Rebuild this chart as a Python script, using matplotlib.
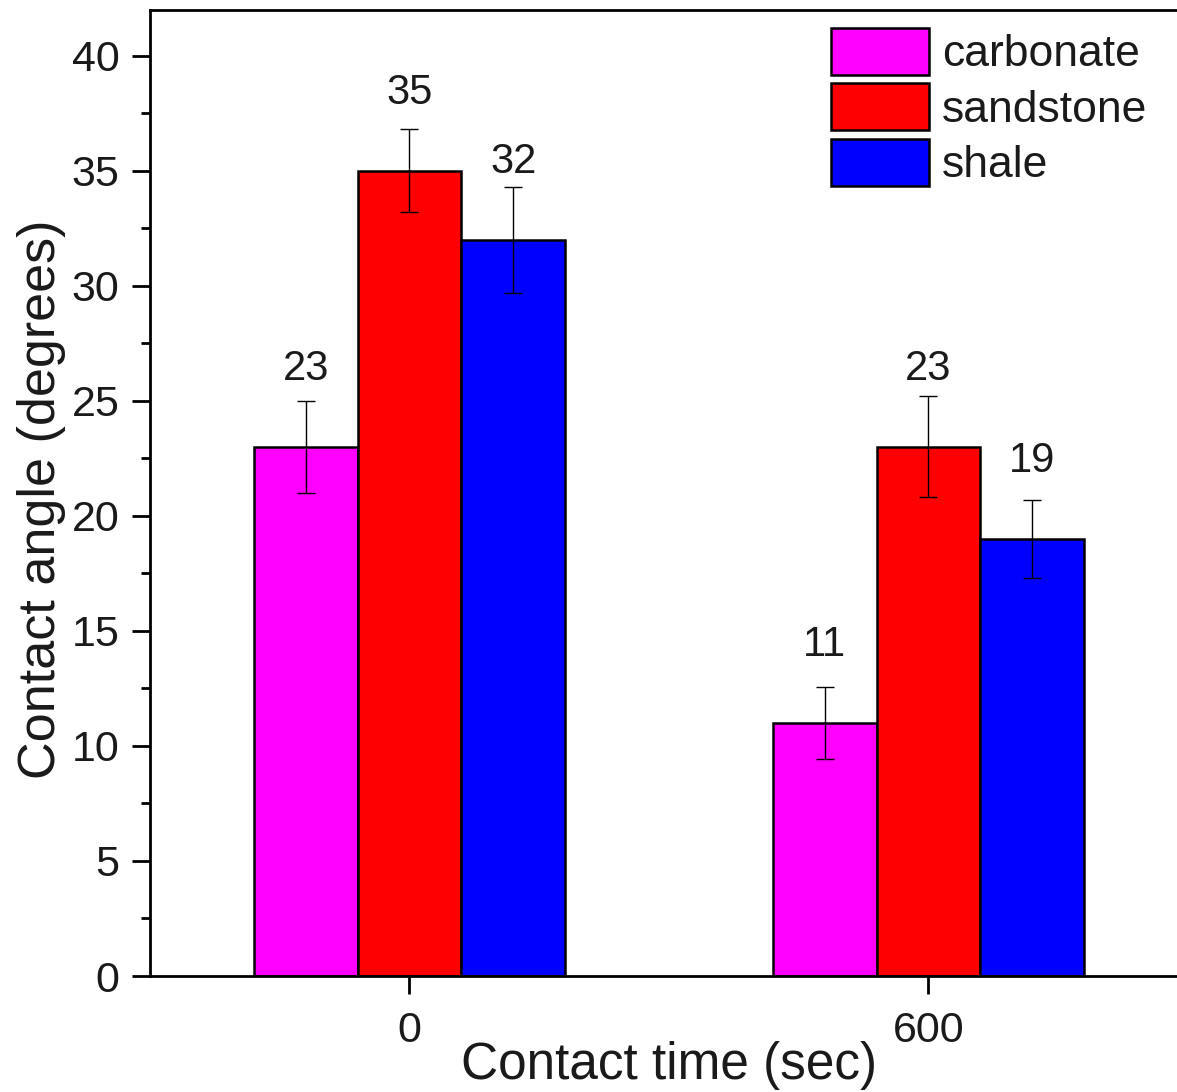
import matplotlib
matplotlib.use('Agg')
import matplotlib.pyplot as plt
import numpy as np

# *************************************************************************
# Data

times = ['0', '600']
rocks = ['carbonate', 'sandstone', 'shale']
colors = ['#ff00ff', '#ff0000', '#0000ff']

carbonate = [23, 11]
sandstone = [35, 23]
shale = [32, 19]

carbonate_err = [2.0, 1.55]
sandstone_err = [1.8, 2.2]
shale_err = [2.3, 1.7]

# *************************************************************************
plt.rcParams['font.family'] = ['Liberation Sans', 'DejaVu Sans']
txt_col = '#1a1a1a'

fig = plt.figure(figsize=(11.77, 10.92), dpi=100)
# right spine sits just past the picture edge, as in the original
ax = fig.add_axes([0.1274, 0.1062, 0.8819, 0.8851])

values = [carbonate, sandstone, shale]
errors = [carbonate_err, sandstone_err, shale_err]
x = np.arange(len(times))
w = 0.2

for i, (vals, errs) in enumerate(zip(values, errors)):
    pos = x + (i - 1) * w
    ax.bar(pos, vals, width=w, color=colors[i], edgecolor='k', linewidth=1.8,
           label=rocks[i], zorder=2)
    ax.errorbar(pos, vals, yerr=errs, fmt='none', ecolor='k', elinewidth=1,
                capsize=6.8, capthick=1, zorder=3)
    # value labels above each bar
    for p, v in zip(pos, vals):
        ax.text(p, v + 2.9, str(v), ha='center', va='baseline', fontsize=30,
                color=txt_col)

ax.set_xlim(-0.5, 1.5)
ax.set_ylim(0, 42)
ax.set_xticks(x)
ax.set_xticklabels(times)
ax.set_yticks(np.arange(0, 41, 5))
ax.set_yticks(np.arange(2.5, 41, 5), minor=True)

ax.tick_params(axis='both', which='major', direction='out', length=13, width=2,
               labelsize=31, labelcolor=txt_col)
ax.tick_params(axis='y', which='major', pad=9)
ax.tick_params(axis='x', which='major', pad=12)
ax.tick_params(axis='y', which='minor', direction='out', length=6.5, width=2)
for s in ax.spines.values():
    s.set_linewidth(2)

ax.set_xlabel('Contact time (sec)', fontsize=37, labelpad=-7, color=txt_col)
ax.set_ylabel('Contact angle (degrees)', fontsize=37.5, labelpad=4, color=txt_col)
ax.yaxis.label.set_y(0.493)

leg = ax.legend(loc='upper left', bbox_to_anchor=(0.656, 0.981), frameon=False,
                fontsize=32, handlelength=2.2, handleheight=1.25, labelspacing=0.18,
                handletextpad=0.3, borderaxespad=0, borderpad=0)
for t in leg.get_texts():
    t.set_color(txt_col)

plt.savefig('out.png', format='png', dpi=100)
